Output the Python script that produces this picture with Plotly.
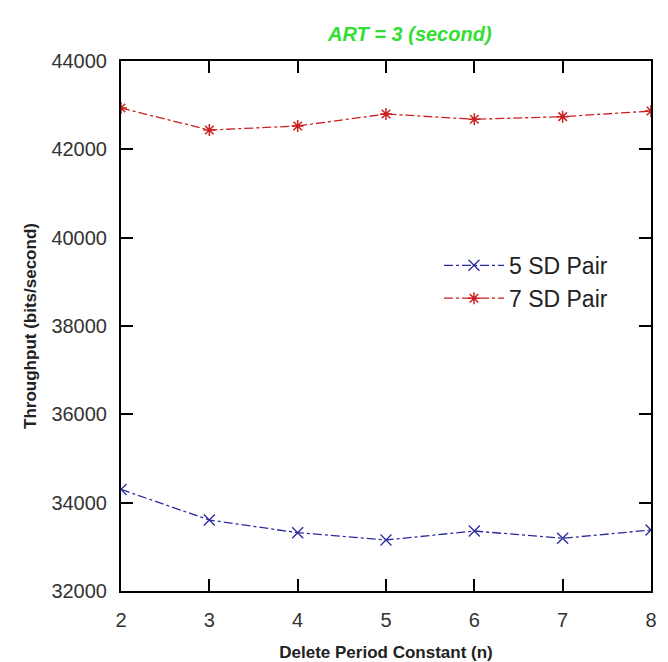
import plotly.graph_objects as go

x_vals = [2, 3, 4, 5, 6, 7, 8]
sd5 = [34300, 33607, 33320, 33155, 33358, 33193, 33381]
sd7 = [42935, 42437, 42528, 42800, 42680, 42740, 42867]
y_ticks = [32000, 34000, 36000, 38000, 40000, 42000, 44000]
y_tick_text = [str(v) for v in y_ticks]

fig = go.Figure()
fig.add_trace(go.Scatter(
    x=x_vals, y=sd5, name="5 SD Pair", mode="lines+markers",
    line=dict(color="#2a2a9e", width=1.3, dash="dashdot"),
    marker=dict(symbol="x-thin-open", size=11, line=dict(color="#2a2a9e", width=1.3)),
))
fig.add_trace(go.Scatter(
    x=x_vals, y=sd7, name="7 SD Pair", mode="lines+markers",
    line=dict(color="#cc1f1f", width=1.3, dash="dashdot"),
    marker=dict(symbol="asterisk-open", size=10, line=dict(color="#cc1f1f", width=1.5)),
))

axis_common = dict(
    showline=True, linecolor="black", linewidth=2, mirror="ticks",
    ticks="inside", ticklen=12, tickwidth=2, tickcolor="black",
    showgrid=False, zeroline=False, automargin=False,
    tickfont=dict(family="Liberation Sans, Arial", size=20, color="#333333"),
)

fig.update_layout(
    width=668, height=662,
    margin=dict(l=121, r=17, t=61, b=71),
    paper_bgcolor="white", plot_bgcolor="white",
    showlegend=True,
    legend=dict(x=0.6, y=0.655, xanchor="left", yanchor="top",
                bgcolor="rgba(0,0,0,0)",
                font=dict(family="Liberation Sans, Arial", size=23, color="#222222"),
                itemwidth=60, tracegroupgap=0),
    xaxis=dict(range=[2, 8], tickvals=x_vals, ticklabelstandoff=10, **axis_common,
               title=dict(text="<b>Delete Period Constant (n)</b>", standoff=18,
                          font=dict(family="Liberation Sans, Arial", size=17, color="#222222"))),
    yaxis=dict(range=[32000, 44000], tickvals=y_ticks, ticktext=y_tick_text,
               ticklabelstandoff=8, **axis_common,
               title=dict(text="<b>Throughput (bits/second)</b>", standoff=10,
                          font=dict(family="Liberation Sans, Arial", size=17, color="#222222"))),
)

fig.add_annotation(
    text="<b><i>ART = 3 (second)</i></b>", x=0.545, y=1.0, xref="paper", yref="paper",
    yanchor="bottom", yshift=14,
    showarrow=False, font=dict(family="Liberation Sans, Arial", size=20, color="#33dd33"),
)

fig.write_html("out.html")
